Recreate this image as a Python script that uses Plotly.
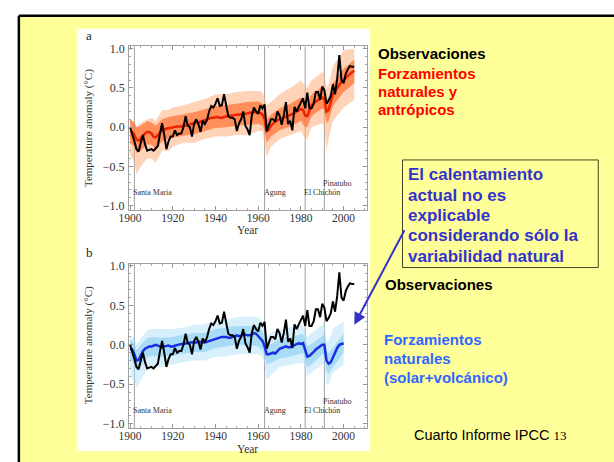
import plotly.graph_objects as go

W, H = 614, 462

years = list(range(1900, 2006))
obs = [0.00, -0.08, -0.18, -0.28, -0.31, -0.20, -0.10, -0.22, -0.30, -0.29,
       -0.28, -0.30, -0.27, -0.24, -0.08, 0.05, -0.10, -0.28, -0.18, -0.12,
       -0.12, -0.04, -0.10, -0.08, -0.08, 0.00, 0.14, 0.02, 0.00, -0.12,
       0.05, 0.10, 0.04, -0.06, 0.08, 0.04, 0.09, 0.20, 0.27, 0.25,
       0.30, 0.37, 0.27, 0.28, 0.42, 0.28, 0.14, 0.12, 0.12, 0.10,
       -0.05, 0.05, 0.10, 0.20, 0.02, -0.03, -0.10, 0.15, 0.25, 0.20,
       0.17, 0.28, 0.24, 0.29, -0.05, 0.03, 0.10, 0.10, 0.07, 0.20,
       0.15, 0.03, 0.15, 0.32, 0.04, 0.08, -0.04, 0.26, 0.20, 0.26,
       0.31, 0.37, 0.24, 0.44, 0.24, 0.24, 0.30, 0.45, 0.45, 0.35,
       0.52, 0.47, 0.30, 0.34, 0.40, 0.55, 0.42, 0.62, 0.92, 0.60,
       0.56, 0.68, 0.74, 0.78, 0.77, 0.77]

red_mean = [-0.05, -0.06, -0.10, -0.16, -0.17, -0.14, -0.10, -0.08, -0.06, -0.06,
            -0.08, -0.12, -0.13, -0.10, -0.06, -0.04, -0.03, -0.02, -0.01, -0.01,
            0.00, 0.00, 0.01, 0.01, 0.01, 0.02, 0.02, 0.03, 0.04, 0.04,
            0.05, 0.05, 0.06, 0.07, 0.08, 0.09, 0.10, 0.11, 0.12, 0.12,
            0.13, 0.13, 0.12, 0.12, 0.13, 0.14, 0.14, 0.15, 0.15, 0.16,
            0.16, 0.16, 0.17, 0.17, 0.17, 0.18, 0.18, 0.19, 0.19, 0.19,
            0.18, 0.18, 0.16, 0.10, -0.05, -0.03, 0.02, 0.05, 0.07, 0.09,
            0.10, 0.11, 0.12, 0.13, 0.14, 0.15, 0.16, 0.18, 0.20, 0.22,
            0.23, 0.22, 0.15, 0.14, 0.22, 0.28, 0.31, 0.33, 0.35, 0.37,
            0.38, 0.36, 0.20, 0.22, 0.32, 0.42, 0.46, 0.50, 0.55, 0.58,
            0.60, 0.63, 0.66, 0.68, 0.70, 0.72]

blue_years = list(range(1900, 2001))
blue_mean = [-0.05, -0.06, -0.12, -0.20, -0.19, -0.14, -0.08, -0.05, -0.03, -0.02,
             -0.02, -0.01, 0.00, -0.01, -0.02, -0.03, -0.02, -0.01, -0.01, -0.02,
             -0.02, -0.01, 0.00, 0.00, 0.01, 0.01, 0.02, 0.02, 0.03, 0.03,
             0.03, 0.03, 0.04, 0.03, 0.03, 0.03, 0.04, 0.05, 0.06, 0.07,
             0.08, 0.09, 0.10, 0.10, 0.10, 0.10, 0.09, 0.09, 0.10, 0.11,
             0.12, 0.11, 0.12, 0.13, 0.13, 0.12, 0.12, 0.13, 0.15, 0.14,
             0.11, 0.09, 0.05, -0.02, -0.12, -0.12, -0.11, -0.10, -0.11, -0.08,
             -0.05, -0.04, -0.03, -0.02, -0.03, -0.03, -0.02, 0.00, 0.01, 0.02,
             0.01, 0.02, -0.06, -0.15, -0.14, -0.12, -0.09, -0.06, -0.04, -0.02,
             0.00, 0.00, -0.20, -0.24, -0.22, -0.16, -0.09, -0.04, 0.00, 0.01,
             0.02]

red_env_years = [1900, 1902, 1903, 1905, 1908, 1910, 1912, 1915, 1918, 1920, 1925, 1930,
                 1935, 1940, 1945, 1950, 1955, 1960, 1962, 1963, 1964, 1966, 1970, 1975,
                 1980, 1982, 1983, 1985, 1990, 1991, 1992, 1993, 1995, 2000, 2005]
red_outer_lo = [-0.35, -0.45, -0.6, -0.5, -0.4, -0.4, -0.45, -0.3, -0.3, -0.25, -0.2, -0.2,
                -0.15, -0.12, -0.12, -0.1, -0.1, -0.05, -0.05, -0.2, -0.38, -0.25, -0.15, -0.1,
                -0.05, -0.15, -0.15, 0.0, 0.05, 0.0, -0.3, -0.15, 0.08, 0.25, 0.35]
red_outer_hi = [0.12, 0.05, 0.0, 0.05, 0.1, 0.12, 0.08, 0.22, 0.22, 0.25, 0.28, 0.32,
                0.36, 0.42, 0.42, 0.45, 0.46, 0.46, 0.45, 0.38, 0.28, 0.32, 0.42, 0.5,
                0.6, 0.52, 0.5, 0.6, 0.7, 0.68, 0.5, 0.55, 0.78, 0.98, 1.0]
red_inner_lo = [-0.2, -0.25, -0.33, -0.3, -0.22, -0.22, -0.28, -0.18, -0.15, -0.13, -0.11, -0.09,
                -0.05, -0.01, 0.0, 0.02, 0.03, 0.04, 0.02, -0.05, -0.2, -0.12, -0.04, 0.01,
                0.08, 0.0, 0.0, 0.14, 0.24, 0.22, 0.05, 0.08, 0.27, 0.45, 0.56]
red_inner_hi = [0.1, 0.06, 0.0, 0.02, 0.08, 0.06, 0.02, 0.1, 0.13, 0.14, 0.16, 0.19,
                0.23, 0.27, 0.28, 0.3, 0.32, 0.33, 0.3, 0.24, 0.1, 0.16, 0.24, 0.3,
                0.38, 0.3, 0.29, 0.42, 0.52, 0.5, 0.35, 0.37, 0.56, 0.75, 0.86]

blue_env_years = [1900, 1902, 1903, 1905, 1908, 1910, 1915, 1920, 1925, 1930, 1935, 1940,
                  1945, 1950, 1955, 1960, 1962, 1963, 1964, 1966, 1970, 1975, 1980, 1981,
                  1982, 1983, 1985, 1990, 1991, 1992, 1993, 1995, 2000]
blue_outer_lo = [-0.4, -0.45, -0.55, -0.45, -0.3, -0.28, -0.28, -0.25, -0.22, -0.2, -0.2, -0.15,
                 -0.15, -0.12, -0.12, -0.12, -0.15, -0.25, -0.45, -0.38, -0.28, -0.25, -0.22, -0.22,
                 -0.3, -0.4, -0.35, -0.25, -0.25, -0.5, -0.5, -0.35, -0.25]
blue_outer_hi = [0.12, 0.08, 0.0, 0.08, 0.18, 0.2, 0.2, 0.2, 0.22, 0.25, 0.26, 0.3,
                 0.32, 0.35, 0.36, 0.35, 0.3, 0.22, 0.12, 0.15, 0.2, 0.22, 0.24, 0.25,
                 0.15, 0.1, 0.15, 0.25, 0.25, 0.05, 0.05, 0.2, 0.3]
blue_inner_lo = [-0.18, -0.25, -0.33, -0.27, -0.15, -0.14, -0.15, -0.14, -0.11, -0.09, -0.09, -0.04,
                 -0.02, 0.0, 0.0, -0.02, -0.07, -0.14, -0.25, -0.23, -0.17, -0.15, -0.11, -0.1,
                 -0.18, -0.28, -0.25, -0.12, -0.13, -0.33, -0.37, -0.28, -0.1]
blue_inner_hi = [0.07, 0.02, -0.07, 0.0, 0.09, 0.1, 0.09, 0.1, 0.13, 0.15, 0.15, 0.2,
                 0.22, 0.24, 0.24, 0.23, 0.17, 0.1, 0.01, 0.01, 0.07, 0.09, 0.13, 0.14,
                 0.06, -0.02, 0.01, 0.12, 0.13, -0.07, -0.11, -0.04, 0.14]

volcano_years = [1902, 1963, 1982, 1991]
volcano_names = ["Santa Maria", "Agung", "El Chichón", "Pinatubo"]
volcano_label_y = [-0.83, -0.83, -0.83, -0.72]

x_ticks = [1900, 1920, 1940, 1960, 1980, 2000]
y_ticks = [-1.0, -0.5, 0.0, 0.5, 1.0]

top_lines = ["Forzamientos", "naturales y", "antrópicos"]
box_lines = ["El calentamiento", "actual no es", "explicable",
             "considerando sólo la", "variabilidad natural"]
bottom_lines = ["Forzamientos", "naturales", "(solar+volcánico)"]


def px(x):
    return x / W


def py(y):
    return 1 - y / H


fig = go.Figure()


def band(xs, lo, hi, color, xa, ya):
    fig.add_trace(go.Scatter(x=xs, y=lo, mode="lines", line=dict(width=0, color=color),
                             showlegend=False, hoverinfo="skip", xaxis=xa, yaxis=ya))
    fig.add_trace(go.Scatter(x=xs, y=hi, mode="lines", line=dict(width=0, color=color),
                             fill="tonexty", fillcolor=color, showlegend=False,
                             hoverinfo="skip", xaxis=xa, yaxis=ya))


# panel a
band(red_env_years, red_outer_lo, red_outer_hi, "rgba(255,175,125,0.55)", "x", "y")
band(red_env_years, red_inner_lo, red_inner_hi, "rgba(255,105,40,0.65)", "x", "y")
fig.add_trace(go.Scatter(x=years, y=red_mean, mode="lines", line=dict(color="rgb(235,35,0)", width=2.5),
                         showlegend=False, xaxis="x", yaxis="y"))
fig.add_trace(go.Scatter(x=years, y=obs, mode="lines", line=dict(color="black", width=2),
                         showlegend=False, xaxis="x", yaxis="y"))

# panel b
band(blue_env_years, blue_outer_lo, blue_outer_hi, "rgba(175,225,248,0.5)", "x2", "y2")
band(blue_env_years, blue_inner_lo, blue_inner_hi, "rgba(110,195,240,0.45)", "x2", "y2")
fig.add_trace(go.Scatter(x=blue_years, y=blue_mean, mode="lines", line=dict(color="rgb(25,45,225)", width=2.5),
                         showlegend=False, xaxis="x2", yaxis="y2"))
fig.add_trace(go.Scatter(x=years, y=obs, mode="lines", line=dict(color="black", width=2),
                         showlegend=False, xaxis="x2", yaxis="y2"))

serif = "Liberation Serif"
sans = "Liberation Sans"
axis_common = dict(
    showline=True, linecolor="rgb(160,160,160)", linewidth=1, mirror="allticks",
    ticks="inside", ticklen=4, tickcolor="rgb(150,150,150)",
    showgrid=False, zeroline=False,
    tickfont=dict(family=serif, size=12, color="#333"),
)
xcommon = dict(axis_common, range=[1899.5, 2011], tickvals=x_ticks, ticklabelstandoff=-3,
               tickfont=dict(family=serif, size=11.5, color="#333"),
               minor=dict(dtick=5, ticks="inside", ticklen=2, tickcolor="rgb(170,170,170)"))
ycommon = dict(axis_common, range=[-1.06, 1.03], tickvals=y_ticks, tickformat=".1f",
               ticklabelstandoff=1,
               minor=dict(dtick=0.1, ticks="inside", ticklen=2, tickcolor="rgb(170,170,170)"))

shapes = [
    # slide background
    dict(type="rect", xref="paper", yref="paper", x0=px(9), x1=1.01, y0=-0.01, y1=py(12),
         fillcolor="#FFFF99", line=dict(width=0), layer="below"),
    dict(type="line", xref="paper", yref="paper", x0=px(9), x1=1.01, y0=py(12), y1=py(12),
         line=dict(color="black", width=2.5), layer="below"),
    dict(type="line", xref="paper", yref="paper", x0=px(9), x1=px(9), y0=-0.01, y1=py(12),
         line=dict(color="black", width=2.5), layer="below"),
    # white figure panel
    dict(type="rect", xref="paper", yref="paper", x0=px(68), x1=px(366), y0=py(453), y1=py(25),
         fillcolor="white", line=dict(width=0), layer="below"),
    # text box
    dict(type="rect", xref="paper", yref="paper", x0=px(399), x1=px(598), y0=py(267), y1=py(158),
         fillcolor="#FFFF99", line=dict(color="rgb(70,70,40)", width=1)),
]
for vy in volcano_years:
    for xr, yr in (("x", "y domain"), ("x2", "y2 domain")):
        shapes.append(dict(type="line", xref=xr, yref=yr, x0=vy, x1=vy, y0=0, y1=1,
                           line=dict(color="rgb(160,160,160)", width=1), layer="below"))

annotations = []
for name, vy, ly in zip(volcano_names, volcano_years, volcano_label_y):
    for xr, yr in (("x", "y"), ("x2", "y2")):
        annotations.append(dict(x=vy, y=ly, xref=xr, yref=yr, text=name, showarrow=False,
                                xanchor="left", yanchor="middle", xshift=-2, borderpad=0,
                                font=dict(family=serif, size=8, color="#333")))


def label(x, y, text, size, color, family=sans, **kw):
    annotations.append(dict(x=px(x - 2), y=py(y), xref="paper", yref="paper", text=text,
                            showarrow=False, xanchor="left", yanchor="middle", borderpad=0,
                            font=dict(family=family, size=size, color=color), **kw))


# panel letters and axis titles
label(78, 32, "a", 13, "#222", serif)
label(78, 252, "b", 13, "#222", serif)
for yc in (126, 346):
    annotations.append(dict(x=px(80), y=py(yc), xref="paper", yref="paper",
                            text="Temperature anomaly (°C)", textangle=-90, showarrow=False,
                            xanchor="center", yanchor="middle",
                            font=dict(family=serif, size=11, color="#333")))
for yc in (229, 451):
    annotations.append(dict(x=px(241), y=py(yc), xref="paper", yref="paper", text="Year",
                            showarrow=False, xanchor="center", yanchor="middle", borderpad=0,
                            font=dict(family=serif, size=11.5, color="#333")))

label(375, 50, "<b>Observaciones</b>", 15, "black")
for t, yy in zip(top_lines, [70, 88.5, 107]):
    label(375, yy, "<b>" + t + "</b>", 15, "rgb(255,0,0)")
for t, yy in zip(box_lines, [173, 194, 214.5, 235, 255.5]):
    label(406, yy, "<b>" + t + "</b>", 17, "rgb(51,51,204)")
label(382, 284, "<b>Observaciones</b>", 15, "black")
for t, yy in zip(bottom_lines, [340, 359, 378]):
    label(381, yy, "<b>" + t + "</b>", 15, "rgb(51,102,255)")
label(412, 437, "Cuarto Informe IPCC <span style='font-family:Liberation Serif;font-size:13px'>13</span>",
      14.5, "black")

# arrow
annotations.append(dict(x=px(350), y=py(325), xref="paper", yref="paper", ax=51, ay=-96,
                        axref="pixel", ayref="pixel", text="", showarrow=True, arrowhead=2,
                        arrowsize=1.2, arrowwidth=2, arrowcolor="rgb(51,51,204)"))

fig.update_layout(
    width=W, height=H, margin=dict(l=0, r=0, t=0, b=0),
    paper_bgcolor="white", plot_bgcolor="rgba(0,0,0,0)",
    xaxis=dict(xcommon, domain=[px(121), px(363)], anchor="y"),
    yaxis=dict(ycommon, domain=[py(209), py(43)], anchor="x"),
    xaxis2=dict(xcommon, domain=[px(121), px(363)], anchor="y2"),
    yaxis2=dict(ycommon, domain=[py(430), py(263)], anchor="x2"),
    shapes=shapes, annotations=annotations, showlegend=False,
)

fig.write_html("out.html", config={"displayModeBar": False},
               post_script="document.body.style.margin='0';document.body.style.overflow='hidden';")
